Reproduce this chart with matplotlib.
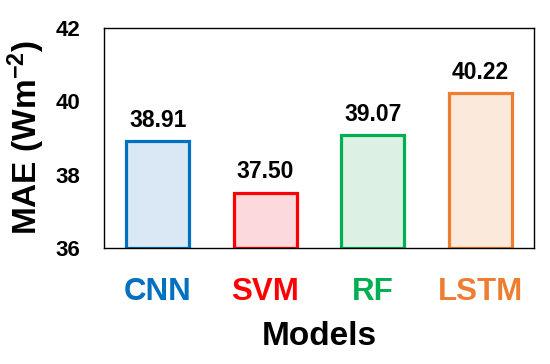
import matplotlib
matplotlib.use("Agg")
import matplotlib.pyplot as plt

models = ["CNN", "SVM", "RF", "LSTM"]
mae = [38.91, 37.50, 39.07, 40.22]
edge_colors = ["#0070C0", "#FF0000", "#00B050", "#ED7D31"]
fill_colors = ["#DAE8F5", "#FCD9DC", "#DCF1E4", "#FBEADC"]
yticks = [36, 38, 40, 42]

plt.rcParams["font.family"] = ["Liberation Sans", "DejaVu Sans"]
plt.rcParams["font.weight"] = "bold"
plt.rcParams["mathtext.fontset"] = "custom"
plt.rcParams["mathtext.rm"] = "Liberation Sans"
plt.rcParams["mathtext.bf"] = "Liberation Sans:bold"
plt.rcParams["mathtext.default"] = "bf"

fig = plt.figure(figsize=(5.5, 3.64), dpi=100)
ax = fig.add_axes([104/550, 1-248/364, 430/550, 220/364])

x = range(len(models))
bars = ax.bar(x, [v - yticks[0] for v in mae], bottom=yticks[0], width=0.585,
              color=fill_colors, edgecolor=edge_colors, linewidth=2.3)
for xi, v in zip(x, mae):
    ax.annotate(f"{v:.2f}", (xi, v), xytext=(0, 7), textcoords="offset points",
                ha="center", va="bottom", fontsize=16.5, fontweight="bold")

ax.set_xlim(-0.5, 3.5)
ax.set_ylim(36, 42)
ax.set_yticks(yticks)
ax.set_yticklabels([str(t) for t in yticks], fontsize=16, fontweight="bold")
ax.set_xticks(list(x))
ax.set_xticklabels(models, fontsize=22.5, fontweight="bold")
for lbl, c in zip(ax.get_xticklabels(), edge_colors):
    lbl.set_color(c)
ax.tick_params(axis="both", length=0)
ax.tick_params(axis="y", pad=17)
ax.tick_params(axis="x", pad=21)
for s in ax.spines.values():
    s.set_linewidth(1.0)
    s.set_color("black")

ax.set_xlabel("Models", fontsize=24, fontweight="bold", labelpad=10)
ax.set_ylabel(r"MAE (Wm$^{-2}$)", fontsize=24, fontweight="bold", labelpad=6)

fig.savefig("out.png", dpi=100)
